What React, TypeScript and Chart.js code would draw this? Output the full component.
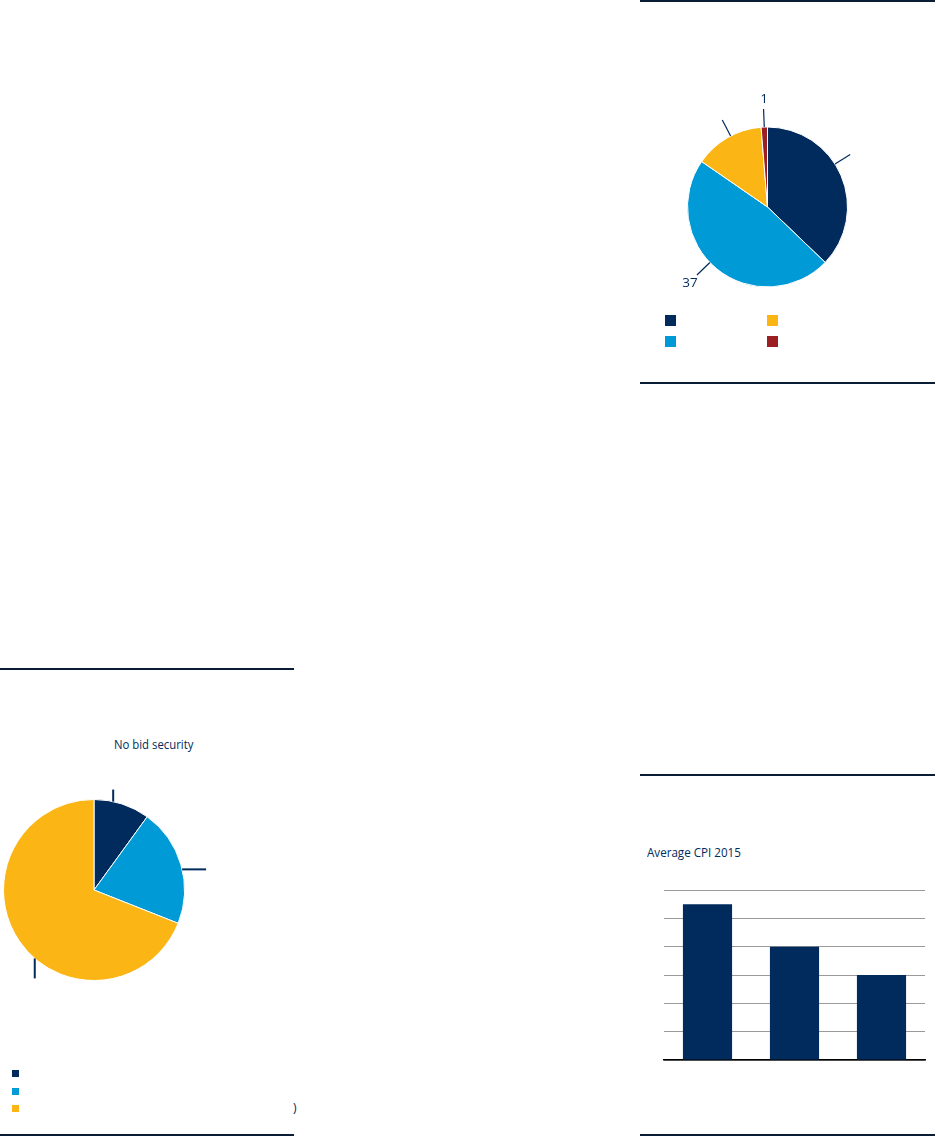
import React, { useEffect, useRef } from "react";
import { Chart, registerables } from "chart.js";
Chart.register(...registerables);

// ---------- data ----------
const pie1Categories = ["Category 1", "Category 2", "Category 3", "Category 4"];
const pie1Values = [29, 37, 11, 1];
const pie1ShownLabels = [false, true, false, true];

const pie2Title = "No bid security";
const pie2Categories = ["Category 1", "Category 2", "Category 3"];
const pie2Values = [10, 21, 69];

const barTitle = "Average CPI 2015";
const barCategories = ["Group 1", "Group 2", "Group 3"];
const barValues = [5.5, 4, 3];
const barMax = 6;
const barStep = 1;

// ---------- style ----------
const NAVY = "#002b5c";
const BLUE = "#009ad7";
const YELLOW = "#fbb616";
const RED = "#9b2024";
const RULE = "#0b1d36";
const FONT = "'Open Sans', 'Noto Sans', sans-serif";

const pie1Colors = [NAVY, BLUE, YELLOW, RED];
const pie2Colors = [NAVY, BLUE, YELLOW];

const leaderPlugin = {
  id: "leaders",
  afterDatasetsDraw(chart: any, _args: any, opts: any) {
    const meta = chart.getDatasetMeta(0);
    const ctx = chart.ctx;
    ctx.save();
    meta.data.forEach((arc: any, i: number) => {
      const p = arc.getProps(["x", "y", "startAngle", "endAngle", "outerRadius"], true);
      const f = opts.anchors[i];
      const a = p.startAngle + (p.endAngle - p.startAngle) * f;
      const r = p.outerRadius;
      const sx = p.x + Math.cos(a) * r;
      const sy = p.y + Math.sin(a) * r;
      let ex = sx, ey = sy;
      if (opts.mode === "radial") {
        ex = p.x + Math.cos(a) * (r + opts.length);
        ey = p.y + Math.sin(a) * (r + opts.length);
      } else {
        const d = opts.dirs[i];
        const L = opts.lengths[i];
        if (d === "up") ey = sy - L;
        if (d === "down") ey = sy + L;
        if (d === "right") ex = sx + L;
        if (d === "left") ex = sx - L;
      }
      ctx.strokeStyle = NAVY;
      ctx.lineWidth = opts.lineWidth;
      ctx.beginPath();
      ctx.moveTo(sx, sy);
      ctx.lineTo(ex, ey);
      ctx.stroke();
      if (opts.labels && opts.labels[i] != null) {
        const lr = r + opts.labelOffset;
        ctx.fillStyle = NAVY;
        ctx.font = "13.5px " + FONT;
        ctx.textAlign = "center";
        ctx.textBaseline = "middle";
        ctx.fillText(String(opts.labels[i]), p.x + Math.cos(a) * lr + 1, p.y + Math.sin(a) * lr + 1);
      }
    });
    ctx.restore();
  },
};

function usePie(ref: any, cfg: any) {
  useEffect(() => {
    const chart = new Chart(ref.current, cfg());
    return () => chart.destroy();
  }, []);
}

function Pie1() {
  const ref = useRef<HTMLCanvasElement>(null);
  usePie(ref, () => ({
    type: "pie",
    data: {
      labels: pie1Categories,
      datasets: [{ data: pie1Values, backgroundColor: pie1Colors, borderColor: "#ffffff", borderWidth: 1 }],
    },
    options: {
      responsive: false,
      animation: false,
      layout: { padding: { left: 47, right: 88, top: 66, bottom: 22 } },
      plugins: {
        legend: { display: false },
        tooltip: { enabled: false },
        leaders: {
          mode: "radial",
          length: 18,
          lineWidth: 1.2,
          anchors: [0.43, 0.54, 0.55, 0.5],
          labels: pie1Values.map((v, i) => (pie1ShownLabels[i] ? v : null)),
          labelOffset: 29,
        },
      },
    },
    plugins: [leaderPlugin],
  }));
  return <canvas ref={ref} width={296} height={250} style={{ position: "absolute", left: 640, top: 60 }} />;
}

function Pie2() {
  const ref = useRef<HTMLCanvasElement>(null);
  usePie(ref, () => ({
    type: "pie",
    data: {
      labels: pie2Categories,
      datasets: [{ data: pie2Values, backgroundColor: pie2Colors, borderColor: "#ffffff", borderWidth: 1 }],
    },
    options: {
      responsive: false,
      animation: false,
      layout: { padding: { left: 3, right: 115, top: 29, bottom: 19 } },
      plugins: {
        legend: { display: false },
        tooltip: { enabled: false },
        leaders: {
          mode: "ortho",
          dirs: ["up", "right", "down"],
          lengths: [12, 24, 20],
          lineWidth: 2,
          anchors: [0.34, 0.54, 0.44],
        },
      },
    },
    plugins: [leaderPlugin],
  }));
  return <canvas ref={ref} width={300} height={230} style={{ position: "absolute", left: 0, top: 770 }} />;
}

function Bars() {
  const ref = useRef<HTMLCanvasElement>(null);
  useEffect(() => {
    const chart = new Chart(ref.current as HTMLCanvasElement, {
      type: "bar",
      data: {
        labels: barCategories,
        datasets: [{ data: barValues, backgroundColor: NAVY, barPercentage: 0.565, categoryPercentage: 1 }],
      },
      options: {
        responsive: false,
        animation: false,
        layout: { padding: { left: 4, right: 5, top: 10, bottom: 5 } },
        plugins: { legend: { display: false }, tooltip: { enabled: false } },
        scales: {
          x: {
            grid: { display: false, drawTicks: false },
            ticks: { display: false, padding: 0 },
            border: { display: true, color: "#000000", width: 1.5 },
          },
          y: {
            min: 0,
            max: barMax,
            ticks: { display: false, stepSize: barStep, padding: 0 },
            grid: { color: "#9a9a9a", lineWidth: 1, drawTicks: false },
            border: { display: false },
          },
        },
      },
    } as any);
    return () => chart.destroy();
  }, []);
  return <canvas ref={ref} width={270} height={185} style={{ position: "absolute", left: 660, top: 880 }} />;
}

const rule = (left: number, top: number, width: number, h: number) => (
  <div style={{ position: "absolute", left, top, width, height: h, background: RULE }} />
);

const textStyle: React.CSSProperties = {
  position: "absolute",
  fontFamily: FONT,
  fontSize: 13.5,
  color: NAVY,
  whiteSpace: "nowrap",
  lineHeight: "16px",
  transformOrigin: "left top",
};

export default function App() {
  return (
    <div style={{ position: "absolute", left: 0, top: 0, width: 936, height: 1137, background: "#fff", overflow: "hidden" }}>
      {rule(640, 0, 295, 2)}
      {rule(640, 382, 295, 2)}
      {rule(640, 774, 295, 1.5)}
      {rule(640, 1134, 295, 2)}
      {rule(0, 668, 294, 1.5)}
      {rule(0, 1134, 294, 2)}

      <Pie1 />
      {[0, 1, 2, 3].map((i) => (
        <div
          key={i}
          title={pie1Categories[i]}
          style={{
            position: "absolute",
            left: 665 + (i === 2 || i === 3 ? 102 : 0),
            top: 315 + (i === 1 || i === 3 ? 21 : 0),
            width: 11,
            height: 11,
            background: pie1Colors[i],
          }}
        />
      ))}

      <div style={{ ...textStyle, left: 114, top: 736, transform: "scaleX(0.84)" }}>{pie2Title}</div>
      <Pie2 />
      {pie2Categories.map((c, i) => (
        <div
          key={c}
          title={c}
          style={{ position: "absolute", left: 12, top: 1070 + i * 17.5, width: 7, height: 7, background: pie2Colors[i] }}
        />
      ))}
      <div style={{ ...textStyle, left: 293, top: 1100, fontSize: 12 }}>)</div>

      <div style={{ ...textStyle, left: 647, top: 844, transform: "scaleX(0.86)" }}>{barTitle}</div>
      <Bars />
    </div>
  );
}
